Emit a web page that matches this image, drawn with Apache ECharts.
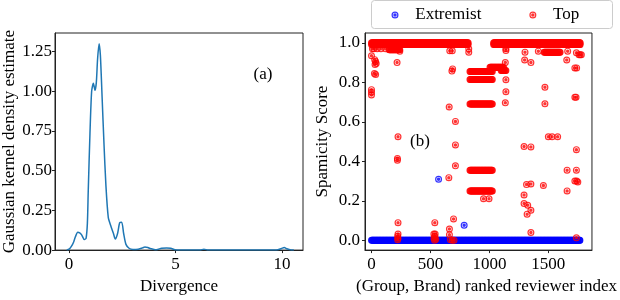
<!DOCTYPE html>
<html><head><meta charset="utf-8">
<script src="https://cdn.jsdelivr.net/npm/echarts@6/dist/echarts.min.js"></script>
<style>html,body{margin:0;padding:0;background:#fff}#c{width:620px;height:300px}</style>
</head><body><div id="c"></div>
<script>
// ---- (a) KDE curve ----
const kdeX = [-0.11,0,0.1,0.2,0.3,0.41,0.5,0.59,0.72,0.8,0.86,0.9,0.98,1.06,1.14,1.22,1.28,1.34,1.41,1.47,1.55,1.64,1.73,1.84,1.95,2.08,2.17,2.28,2.375,2.47,2.56,2.67,2.83,3.0,3.25,3.45,3.56,3.7,3.8,4.1,4.34,4.58,4.77,4.97,5.2,6.0,6.14,6.33,6.53,7.7,9.73,9.97,10.1,10.23,10.44,10.55];
const kdeY = [0,0.006,0.022,0.046,0.085,0.112,0.108,0.096,0.066,0.076,0.17,0.37,0.73,1.0,1.05,1.006,1.056,1.206,1.30,1.226,0.966,0.666,0.406,0.206,0.156,0.106,0.07,0.106,0.172,0.176,0.106,0.036,0.01,0.004,0.006,0.014,0.02,0.016,0.01,0.002,0.012,0.014,0.012,0.002,0,0,0,0.006,0,0,0,0.01,0.016,0.008,0,0];
const xTicksA = [0,5,10];
const yTicksA = [0,0.25,0.5,0.75,1.0,1.25];

// ---- (b) scatter: runs are [startIndex, endIndex, score], points are [index, score] ----
const extremistRuns = [[0,1768,0]];
const extremistPoints = [[569,0.309],[786,0.076]];
const topRuns = [
  [0,820,1.0],[0,820,0.992],[1036,1770,1.0],[1036,1770,0.992],
  [150,240,0.965],
  [835,1025,0.855],[835,1025,0.815],[835,1025,0.69],[835,1025,0.355],[835,1025,0.25],
  [1005,1120,0.876],[1100,1140,0.86],
  [1465,1600,0.953]
];
const topPoints = [
  [0,0.935],[8,0.97],[20,0.97],[48,0.97],[80,0.97],[119,0.97],[27,0.915],[35,0.905],[40,0.895],[30,0.89],
  [25,0.845],[35,0.84],[0,0.763],[0,0.75],[0,0.736],
  [240,0.957],[217,0.90],[225,0.524],[220,0.414],[220,0.405],[225,0.089],[225,0.031],[222,0.02],[225,0.01],[222,0.003],
  [537,0.089],[529,0.031],[540,0.031],[537,0.02],[530,0.01],[545,0.005],[535,0.0],
  [664,0.96],[685,0.96],[659,0.675],[712,0.602],[712,0.483],[712,0.377],[656,0.317],[696,0.108],[661,0.057],
  [661,0.028],[670,0.003],[685,0.0],[700,0.0],[688,0.868],[682,0.857],
  [825,0.97],[825,0.953],[950,0.21],[997,0.21],
  [1140,0.961],[1140,0.97],[1135,0.90],[1140,0.813],[1140,0.752],[1135,0.696],
  [1302,0.953],[1299,0.913],[1352,0.90],[1294,0.475],[1352,0.473],[1294,0.229],[1294,0.186],[1325,0.177],
  [1352,0.152],[1320,0.132],[1352,0.039],[1315,0.282],[1352,0.285],
  [1415,0.958],[1471,0.775],[1471,0.691],[1458,0.277],[1500,0.524],[1532,0.524],[1579,0.524],
  [1664,0.958],[1656,0.913],[1659,0.355],[1659,0.25],
  [1738,0.95],[1760,0.94],[1770,0.94],[1780,0.94],[1725,0.873],[1740,0.873],[1725,0.725],[1735,0.725],
  [1738,0.459],[1738,0.355],[1725,0.30],[1740,0.30],[1750,0.295],[1738,0.012]
];
const xTicksB = [0,500,1000,1500];
const yTicksB = [0,0.2,0.4,0.6,0.8,1.0];
const seriesNames = ['Extremist','Top'];

const RUN_STEP = 5;
function expand(runs, pts) {
  const out = [];
  for (const [a, b, v] of runs) {
    for (let i = a; i < b; i += RUN_STEP) out.push([i, v]);
    out.push([b, v]);
  }
  return out.concat(pts);
}

const FONT = 'Liberation Serif';
const FS = 17;
const MARK = 'path://M0,-1A1,1 0 1,1 0,1A1,1 0 1,1 0,-1Z M0,-0.66A0.66,0.66 0 1,0 0,0.66A0.66,0.66 0 1,0 0,-0.66Z M0,-0.5A0.5,0.5 0 1,1 0,0.5A0.5,0.5 0 1,1 0,-0.5Z';
const axisCommon = {
  type: 'value',
  splitLine: { show: false },
  axisLine: { show: true, onZero: false, lineStyle: { color: '#222', width: 1 } },
  nameTextStyle: { fontFamily: FONT, fontSize: FS, color: '#000' },
  nameLocation: 'middle'
};

const chart = echarts.init(document.getElementById('c'), null, { renderer: 'canvas' });
chart.setOption({
  animation: false,
  backgroundColor: '#fff',
  grid: [
    { left: 55, top: 33, width: 248, height: 228, show: true, borderColor: '#222', borderWidth: 1 },
    { left: 365, top: 33, width: 243, height: 227, show: true, borderColor: '#222', borderWidth: 1 }
  ],
  xAxis: [
    Object.assign({}, axisCommon, {
      gridIndex: 0, min: -0.66, max: 10.98, name: 'Divergence', nameGap: 20,
      axisTick: { show: true, length: 3, customValues: xTicksA, lineStyle: { color: '#222' } },
      axisLabel: { customValues: xTicksA, margin: 6, fontFamily: FONT, fontSize: FS, color: '#000', formatter: v => String(v) }
    }),
    Object.assign({}, axisCommon, {
      gridIndex: 1, min: -55, max: 1870, name: '(Group, Brand) ranked reviewer index', nameGap: 20,
      nameTextStyle: { fontFamily: FONT, fontSize: FS, color: '#000', padding: [0, 0, 0, 16] },
      axisTick: { show: true, length: 3, customValues: xTicksB, lineStyle: { color: '#222' } },
      axisLabel: { customValues: xTicksB, margin: 6, fontFamily: FONT, fontSize: FS, color: '#000', formatter: v => String(v) }
    })
  ],
  yAxis: [
    Object.assign({}, axisCommon, {
      gridIndex: 0, min: 0, max: 1.367, name: 'Gaussian kernel density estimate', nameGap: 36,
      axisTick: { show: true, length: 3, customValues: yTicksA, lineStyle: { color: '#222' } },
      axisLabel: { customValues: yTicksA, margin: 3, fontFamily: FONT, fontSize: FS, color: '#000', formatter: v => v.toFixed(2) }
    }),
    Object.assign({}, axisCommon, {
      gridIndex: 1, min: -0.05, max: 1.05, name: 'Spamicity Score', nameGap: 34,
      axisTick: { show: true, length: 3, customValues: yTicksB, lineStyle: { color: '#222' } },
      axisLabel: { customValues: yTicksB, margin: 5, fontFamily: FONT, fontSize: FS, color: '#000', formatter: v => v.toFixed(1) }
    })
  ],
  legend: {
    left: 391.5, top: 6.5, itemWidth: 30.5, itemHeight: 7, itemGap: 48, padding: 0,
    data: seriesNames,
    textStyle: { fontFamily: FONT, fontSize: FS, color: '#000' }
  },
  graphic: [
    { type: 'rect', z: -1, shape: { x: 371.5, y: 0.5, width: 241, height: 28, r: 3 }, style: { fill: '#fff', stroke: '#cccccc', lineWidth: 1 } },
    { type: 'text', x: 263, y: 75, style: { text: '(a)', fontFamily: FONT, fontSize: FS, fill: '#000', align: 'center', verticalAlign: 'middle' } },
    { type: 'text', x: 420, y: 142, style: { text: '(b)', fontFamily: FONT, fontSize: FS, fill: '#000', align: 'center', verticalAlign: 'middle' } }
  ],
  series: [
    {
      type: 'line', xAxisIndex: 0, yAxisIndex: 0, showSymbol: false, smooth: 0.25,
      data: kdeX.map((x, i) => [x, kdeY[i]]),
      lineStyle: { color: '#1f77b4', width: 1.5 }, itemStyle: { color: '#1f77b4' }
    },
    {
      name: seriesNames[0], type: 'scatter', xAxisIndex: 1, yAxisIndex: 1, large: false,
      symbol: MARK, symbolSize: 7, itemStyle: { color: '#0000ff' },
      data: expand(extremistRuns, extremistPoints)
    },
    {
      name: seriesNames[1], type: 'scatter', xAxisIndex: 1, yAxisIndex: 1, large: false,
      symbol: MARK, symbolSize: 7, itemStyle: { color: '#ff0000' },
      data: expand(topRuns, topPoints)
    }
  ]
});
</script>
</body></html>
